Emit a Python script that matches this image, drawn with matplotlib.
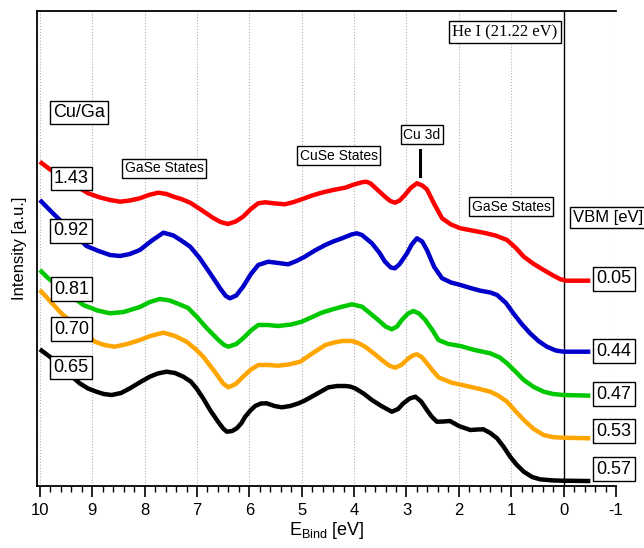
import matplotlib
matplotlib.use("Agg")
import matplotlib.pyplot as plt
from matplotlib.ticker import MultipleLocator

plt.rcParams['font.family'] = ['Liberation Sans', 'DejaVu Sans']
plt.rcParams['mathtext.default'] = 'regular'
plt.rcParams['axes.unicode_minus'] = False

# binding energy [eV] / intensity [a.u., offset]
e_red = [10.00, 9.81, 9.08, 8.85, 8.66, 8.47, 8.28, 8.09, 7.92, 7.74, 7.58, 7.45, 7.30, 7.13,
         6.90, 6.69, 6.55, 6.41, 6.26, 6.12, 5.97, 5.83, 5.70, 5.50, 5.32, 5.15, 5.00, 4.80,
         4.62, 4.40, 4.17, 4.00, 3.85, 3.77, 3.69, 3.55, 3.41, 3.31, 3.22, 3.13, 3.03, 2.92,
         2.80, 2.70, 2.61, 2.47, 2.32, 2.15, 1.97, 1.75, 1.53, 1.30, 1.08, 0.92, 0.76, 0.57,
         0.38, 0.20, 0.06, -0.06, -0.51]
i_red = [324.3, 316.7, 292.7, 288.5, 286.0, 284.3, 285.5, 287.7, 291.0, 293.3, 292.0, 289.3,
         287.0, 283.3, 275.5, 268.0, 264.0, 262.0, 264.5, 269.3, 277.0, 282.7, 283.7, 282.5,
         281.7, 284.0, 286.7, 290.5, 293.3, 296.0, 298.3, 301.5, 303.7, 304.3, 302.7, 296.0,
         289.3, 285.0, 283.3, 285.5, 291.0, 298.0, 302.7, 300.5, 296.7, 282.0, 267.7, 261.5,
         257.7, 255.5, 253.3, 250.5, 246.0, 238.5, 229.3, 222.0, 216.0, 210.5, 206.7, 205.3,
         205.3]

e_blue = [10.00, 9.75, 9.11, 8.88, 8.66, 8.47, 8.28, 8.09, 7.86, 7.64, 7.45, 7.30, 7.13, 6.95,
          6.75, 6.55, 6.45, 6.37, 6.25, 6.12, 5.97, 5.83, 5.64, 5.45, 5.26, 5.10, 4.94, 4.75,
          4.55, 4.40, 4.23, 4.05, 3.95, 3.85, 3.66, 3.52, 3.41, 3.30, 3.22, 3.13, 2.99, 2.90,
          2.80, 2.70, 2.61, 2.47, 2.32, 2.15, 1.97, 1.78, 1.59, 1.40, 1.27, 1.10, 0.96, 0.80,
          0.64, 0.48, 0.32, 0.15, 0.00, -0.51]
i_blue = [286.0, 272.7, 240.0, 235.0, 231.0, 230.0, 232.0, 236.0, 245.5, 253.3, 250.5, 245.5,
          239.3, 228.0, 212.7, 197.0, 190.0, 187.7, 190.5, 199.3, 212.0, 221.0, 224.3, 223.0,
          221.7, 225.0, 229.3, 235.5, 241.0, 244.5, 247.7, 251.5, 252.7, 251.0, 242.7, 233.5,
          224.3, 218.5, 217.7, 222.0, 232.7, 241.5, 247.7, 244.5, 236.0, 219.0, 207.7, 203.5,
          201.0, 198.0, 195.3, 193.5, 191.0, 183.0, 172.7, 162.0, 152.7, 145.0, 139.3, 135.5,
          134.3, 134.3]

e_green = [10.00, 9.84, 9.17, 8.90, 8.66, 8.40, 8.09, 7.90, 7.71, 7.52, 7.35, 7.17, 7.00, 6.81,
           6.60, 6.48, 6.40, 6.25, 6.12, 5.97, 5.83, 5.65, 5.45, 5.20, 5.00, 4.80, 4.62, 4.42,
           4.23, 4.04, 3.85, 3.70, 3.54, 3.40, 3.28, 3.18, 3.09, 2.97, 2.87, 2.76, 2.64, 2.50,
           2.39, 2.20, 1.97, 1.70, 1.40, 1.22, 1.08, 0.92, 0.76, 0.57, 0.38, 0.20, 0.00, -0.51]
i_green = [216.0, 207.7, 181.0, 175.5, 172.7, 174.0, 179.0, 184.0, 187.0, 185.5, 182.0, 178.0,
           169.0, 157.7, 146.5, 141.0, 139.3, 142.0, 147.7, 155.5, 161.0, 161.0, 160.0, 161.5,
           164.3, 169.0, 173.3, 176.5, 179.3, 181.7, 179.3, 173.0, 166.0, 159.5, 156.7, 159.5,
           166.0, 172.5, 175.0, 172.5, 166.0, 155.5, 146.0, 142.0, 140.0, 136.0, 132.7, 128.5,
           122.7, 114.5, 106.0, 99.0, 94.3, 92.0, 91.0, 90.3]

e_orange = [10.00, 9.59, 8.95, 8.77, 8.57, 8.33, 8.09, 7.86, 7.64, 7.42, 7.20, 7.04, 6.88, 6.65,
            6.50, 6.40, 6.26, 6.12, 5.97, 5.83, 5.64, 5.45, 5.25, 5.03, 4.80, 4.55, 4.38, 4.23,
            4.04, 3.92, 3.79, 3.62, 3.47, 3.33, 3.22, 3.10, 2.96, 2.88, 2.80, 2.70, 2.61, 2.50,
            2.39, 2.15, 1.85, 1.60, 1.40, 1.25, 1.08, 0.92, 0.76, 0.57, 0.38, 0.20, 0.00, -0.51]
i_orange = [196.0, 172.7, 144.3, 141.0, 139.3, 142.0, 146.0, 150.5, 153.3, 150.0, 144.3, 137.5,
            129.3, 113.5, 102.5, 98.7, 102.0, 109.3, 116.5, 121.0, 121.0, 120.3, 121.5, 124.3,
            132.5, 141.0, 143.5, 145.0, 145.0, 143.0, 139.3, 132.5, 126.0, 120.5, 118.3, 121.0,
            127.7, 130.5, 131.7, 128.5, 122.7, 115.5, 108.7, 103.5, 100.0, 97.0, 94.3, 90.5,
            84.3, 75.0, 66.0, 57.0, 51.0, 48.8, 48.3, 47.7]

e_black = [10.00, 9.81, 9.24, 9.08, 8.92, 8.78, 8.63, 8.45, 8.28, 8.08, 7.90, 7.75, 7.58, 7.42,
           7.26, 7.12, 7.01, 6.88, 6.75, 6.60, 6.50, 6.43, 6.33, 6.24, 6.15, 6.08, 5.98, 5.89,
           5.78, 5.67, 5.52, 5.38, 5.22, 5.06, 4.94, 4.81, 4.65, 4.49, 4.32, 4.17, 4.08, 3.98,
           3.82, 3.66, 3.48, 3.28, 3.16, 3.06, 2.94, 2.83, 2.72, 2.61, 2.52, 2.42, 2.30, 2.17,
           2.00, 1.78, 1.65, 1.53, 1.40, 1.27, 1.15, 1.02, 0.90, 0.76, 0.60, 0.45, 0.20, 0.00,
           -0.51]
i_black = [136.7, 129.3, 102.7, 97.5, 94.3, 92.0, 91.0, 93.0, 97.7, 104.0, 109.3, 112.5, 114.3,
           113.0, 109.3, 104.5, 97.7, 87.5, 76.0, 64.5, 57.5, 54.3, 55.0, 57.7, 63.0, 69.3, 75.5,
           80.0, 82.5, 82.7, 80.0, 78.7, 80.0, 82.7, 85.5, 89.3, 94.0, 98.7, 100.0, 100.0, 99.5,
           97.7, 92.5, 86.0, 80.0, 74.3, 77.0, 82.7, 87.5, 89.3, 84.5, 76.0, 69.5, 64.3, 64.5,
           65.0, 60.0, 56.0, 56.5, 56.7, 53.0, 47.7, 39.5, 29.3, 21.5, 14.3, 9.0, 6.7, 5.6, 5.3,
           5.0]

series = [
    (e_red, i_red, '#ff0000'),
    (e_blue, i_blue, '#0000c8'),
    (e_green, i_green, '#00c800'),
    (e_orange, i_orange, '#ffa500'),
    (e_black, i_black, '#000000'),
]

cu_ga = ['1.43', '0.92', '0.81', '0.70', '0.65']
cu_ga_y = [307.7, 255.2, 196.8, 156.8, 118.5]
vbm = ['0.05', '0.44', '0.47', '0.53', '0.57']
vbm_y = [207.0, 135.0, 92.0, 55.0, 17.0]

fig = plt.figure(figsize=(6.44, 5.48), dpi=100)
ax = fig.add_axes([0.057, 0.1131, 0.8995, 0.8669])

for e, i, c in series:
    ax.plot(e, i, color=c, lw=3.2, solid_capstyle='butt', solid_joinstyle='round', zorder=3)

ax.set_xlim(10.06, -1.0)
ax.set_ylim(0, 475)

ax.xaxis.set_major_locator(MultipleLocator(1))
ax.xaxis.set_minor_locator(MultipleLocator(0.2))
ax.tick_params(axis='x', which='major', direction='out', length=8, width=1.2, labelsize=12, pad=4)
ax.tick_params(axis='x', which='minor', direction='out', length=4.5, width=1.0)
ax.set_yticks([])
ax.grid(axis='x', which='major', ls=':', color='#b0b0b0', lw=0.8)
ax.set_axisbelow(True)
ax.axvline(0, color='black', lw=1.0, zorder=2)

ax.spines['right'].set_visible(False)
for s in ['left', 'top', 'bottom']:
    ax.spines[s].set_linewidth(1.3)

ax.set_xlabel('E$_{Bind}$ [eV]', fontsize=13, labelpad=2)
ax.set_ylabel('Intensity [a.u.]', fontsize=12, labelpad=7)

box = dict(boxstyle='square,pad=0.18', fc='white', ec='black', lw=1.0)

for lab, y in zip(cu_ga, cu_ga_y):
    ax.text(9.40, y, lab, fontsize=13, ha='center', va='center', bbox=box, zorder=5)
for lab, y in zip(vbm, vbm_y):
    ax.text(-0.96, y, lab, fontsize=13, ha='center', va='center', bbox=box, zorder=5)

ax.text(9.25, 373.5, 'Cu/Ga', fontsize=13, ha='center', va='center', bbox=box, zorder=5)
ax.text(-0.84, 268, 'VBM [eV]', fontsize=12, ha='center', va='center', bbox=box, zorder=5)
ax.text(7.63, 317.7, 'GaSe States', fontsize=10, ha='center', va='center', bbox=box, zorder=5)
ax.text(4.29, 330.2, 'CuSe States', fontsize=10, ha='center', va='center', bbox=box, zorder=5)
ax.text(1.00, 279.3, 'GaSe States', fontsize=10, ha='center', va='center', bbox=box, zorder=5)
ax.text(2.71, 351, 'Cu 3d', fontsize=10, ha='center', va='center', bbox=box, zorder=5)
ax.plot([2.75, 2.75], [310, 336], color='black', lw=2.2, zorder=4)
ax.text(1.12, 454, 'He I (21.22 eV)', fontsize=12, family=['Liberation Serif', 'DejaVu Serif'],
        ha='center', va='center', bbox=box, zorder=5)

fig.savefig('out.png', dpi=100)
